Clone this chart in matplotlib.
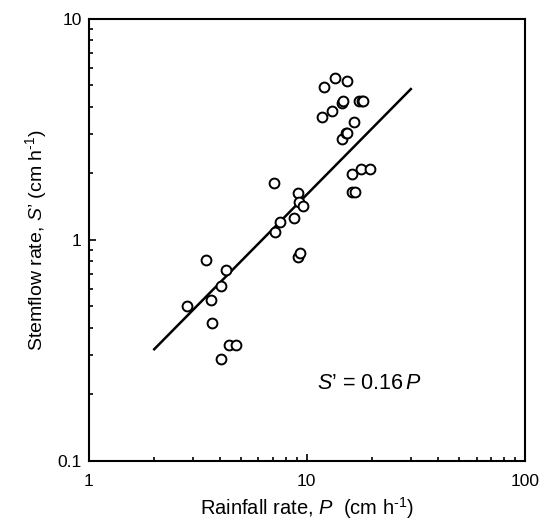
import matplotlib
matplotlib.use("Agg")
import matplotlib.pyplot as plt
import matplotlib.ticker as ticker
import numpy as np

# rainfall rate P (cm/h) and stemflow rate S' (cm/h)
rainfall = [2.82, 3.45, 4.25, 4.03, 3.63, 3.68, 4.42, 4.73, 4.03,
            7.06, 7.16, 7.57, 8.71, 9.15, 9.25, 9.64, 9.15, 9.31,
            11.8, 12.0, 13.1, 13.5, 15.3, 14.55, 14.7, 14.55, 15.1, 15.3,
            16.5, 17.4, 18.0, 18.2, 16.2, 17.7, 19.5, 16.2, 16.7]
stemflow = [0.503, 0.81, 0.73, 0.618, 0.534, 0.422, 0.333, 0.333, 0.288,
            1.81, 1.087, 1.207, 1.254, 1.62, 1.476, 1.425, 0.838, 0.869,
            3.58, 4.92, 3.83, 5.38, 5.23, 4.16, 4.24, 2.84, 3.03, 3.05,
            3.40, 4.24, 4.24, 4.24, 1.99, 2.09, 2.09, 1.64, 1.64]

fit_coef = 0.16
fit_range = [2, 30]

plt.rcParams['font.family'] = ['Liberation Sans', 'DejaVu Sans']
plt.rcParams['mathtext.fontset'] = 'custom'
plt.rcParams['mathtext.rm'] = 'Liberation Sans'
plt.rcParams['mathtext.it'] = 'Liberation Sans:italic'

fig = plt.figure(figsize=(5.44, 5.31), dpi=100)
ax = fig.add_axes([0.1627, 0.1318, 0.8023, 0.8333])

ax.scatter(rainfall, stemflow, s=50, facecolors='white', edgecolors='black',
           linewidths=1.4, zorder=3)

p_line = np.array(fit_range, dtype=float)
ax.plot(p_line, fit_coef * p_line, color='black', lw=1.8, zorder=2)

ax.set_xscale('log')
ax.set_yscale('log')
ax.set_xlim(1, 100)
ax.set_ylim(0.1, 10)

fmt = ticker.FuncFormatter(lambda v, pos: '%g' % v)
ax.xaxis.set_major_formatter(fmt)
ax.yaxis.set_major_formatter(fmt)
ax.xaxis.set_minor_formatter(ticker.NullFormatter())
ax.yaxis.set_minor_formatter(ticker.NullFormatter())

ax.tick_params(which='both', direction='in', top=False, right=False, width=1.2)
ax.tick_params(which='major', length=5, labelsize=12.5)
ax.tick_params(axis='x', which='major', pad=9)
ax.tick_params(axis='y', which='major', pad=5)
ax.tick_params(which='minor', length=3)

for sp in ax.spines.values():
    sp.set_linewidth(1.5)

ax.set_xlabel('Rainfall rate, $\\mathit{P}$  (cm h$^{\\mathregular{\u2010}1}$)', fontsize=14.5, labelpad=5)
ax.set_ylabel('Stemflow rate, $\\mathit{S}$\u2019 (cm h$^{\\mathregular{\u2010}1}$)', fontsize=14, labelpad=6)

ax.text(11.1, 0.225, '$\\mathit{S}$\u2019 = 0.16$\\,\\mathit{P}$', fontsize=15.5, va='center', ha='left')

fig.savefig('out.png', dpi=100)
